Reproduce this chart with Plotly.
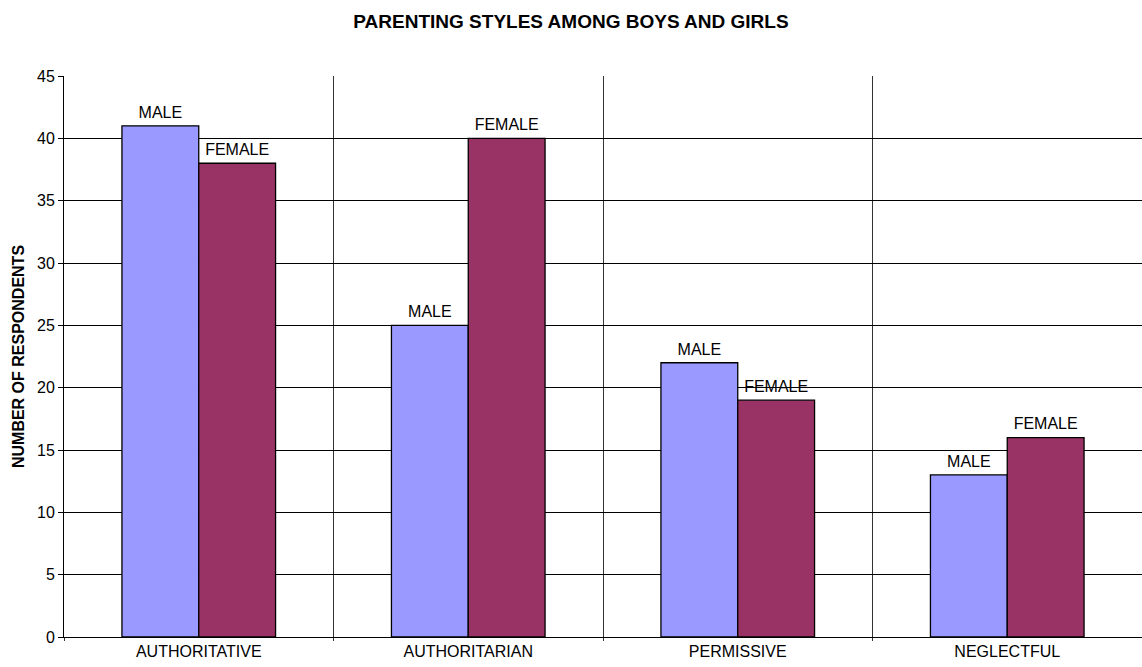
import plotly.graph_objects as go

# Parenting style counts by gender
styles = ["AUTHORITATIVE", "AUTHORITARIAN", "PERMISSIVE", "NEGLECTFUL"]
male = [41, 25, 22, 13]
female = [38, 40, 19, 16]
y_ticks = [0, 5, 10, 15, 20, 25, 30, 35, 40, 45]

MALE_COLOR = "#9999FF"
FEMALE_COLOR = "#993366"
FONT = "Liberation Sans, Arial, sans-serif"

fig = go.Figure()

for name, vals, color in [("MALE", male, MALE_COLOR), ("FEMALE", female, FEMALE_COLOR)]:
    fig.add_trace(go.Bar(
        x=styles, y=vals, name=name, offsetgroup=name,
        marker=dict(color=color, line=dict(color="black", width=1.3)),
        showlegend=False,
    ))
    # series name written above each bar
    fig.add_trace(go.Scatter(
        x=styles, y=vals, offsetgroup=name, mode="markers+text",
        text=[name] * len(vals), textposition="top center",
        marker=dict(size=5, opacity=0),
        textfont=dict(family=FONT, size=16, color="black"),
        cliponaxis=False, showlegend=False, hoverinfo="skip",
    ))

fig.update_layout(
    width=1142, height=667,
    margin=dict(l=64, r=0, t=76, b=30),
    paper_bgcolor="white", plot_bgcolor="white",
    barmode="group", bargap=0.43, bargroupgap=0,
    scattermode="group",
    font=dict(family=FONT, size=16, color="black"),
    title=dict(
        text="<b>PARENTING STYLES AMONG BOYS AND GIRLS</b>",
        x=0.5, xanchor="center", y=1 - 21 / 667, yanchor="middle",
        font=dict(family=FONT, size=19, color="black"),
    ),
)

fig.update_xaxes(
    type="category", tickson="boundaries",
    showgrid=True, gridcolor="#333333", gridwidth=1,
    showline=True, linecolor="black", linewidth=1,
    ticks="outside", ticklen=3, tickcolor="#333333",
    tickfont=dict(family=FONT, size=16, color="black"),
)

fig.update_yaxes(
    range=[0, 45], tickvals=y_ticks,
    showgrid=True, gridcolor="black", gridwidth=1,
    showline=True, linecolor="black", linewidth=1,
    ticks="outside", ticklen=5, tickcolor="black",
    tickfont=dict(family=FONT, size=16, color="black"),
    zeroline=False,
    title=dict(text="<b>NUMBER OF RESPONDENTS</b>", standoff=8,
               font=dict(family=FONT, size=16, color="black")),
)

fig.write_html("out.html")
